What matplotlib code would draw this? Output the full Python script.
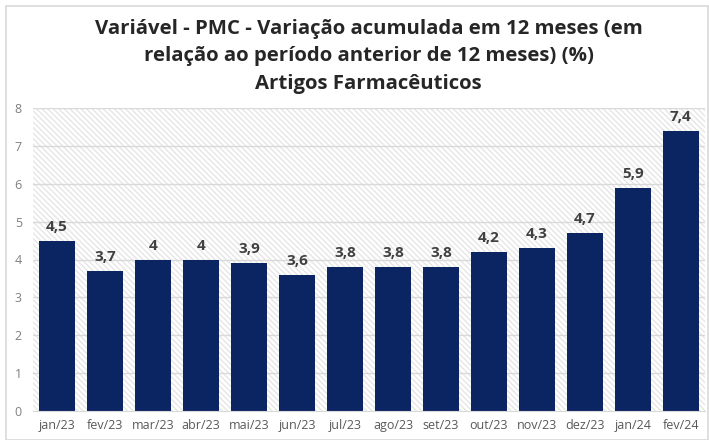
import matplotlib
matplotlib.use('Agg')
import matplotlib.pyplot as plt
from matplotlib.patches import Rectangle

meses = ['jan/23', 'fev/23', 'mar/23', 'abr/23', 'mai/23', 'jun/23', 'jul/23',
         'ago/23', 'set/23', 'out/23', 'nov/23', 'dez/23', 'jan/24', 'fev/24']
valores = [4.5, 3.7, 4.0, 4.0, 3.9, 3.6, 3.8, 3.8, 3.8, 4.2, 4.3, 4.7, 5.9, 7.4]
yticks = [0, 1, 2, 3, 4, 5, 6, 7, 8]

plt.rcParams['font.family'] = ['Open Sans', 'DejaVu Sans']

fig = plt.figure(figsize=(7.09, 4.40), dpi=100)
fig.patch.set_facecolor('white')
# chart frame
fig.add_artist(Rectangle((6 / 709, 0), 702 / 709, 434 / 440, transform=fig.transFigure,
                         fill=False, edgecolor='#d9d9d9', linewidth=1.2))

ax = fig.add_axes([33 / 709, 29 / 440, 672 / 709, 303 / 440])
ax.set_xlim(-0.5, len(meses) - 0.5)
ax.set_ylim(0, 8)

# hatched plot area
ax.add_patch(Rectangle((0, 0), 1, 1, transform=ax.transAxes, facecolor='white',
                       edgecolor='#e6e6e6', hatch='\\\\\\\\\\\\', linewidth=0, zorder=0))
for y in yticks[1:]:
    ax.axhline(y, color='#d9d9d9', linewidth=1.0, zorder=1)

x = range(len(meses))
bars = ax.bar(x, valores, width=0.75, color='#0b2462', zorder=2)
for xi, v in zip(x, valores):
    lab = f'{v:.1f}'.replace('.', ',') if v != int(v) else str(int(v))
    ax.text(xi, v + 0.18, lab, ha='center', va='bottom', fontsize=11,
            fontweight='bold', color='#404040')

ax.set_xticks(list(x))
ax.set_xticklabels(meses, fontsize=9, color='#595959')
ax.set_yticks(yticks)
ax.set_yticklabels([str(t) for t in yticks], fontsize=9, color='#7f7f7f')
ax.tick_params(axis='x', length=0, pad=6)
ax.tick_params(axis='y', length=0, pad=8)
for s in ['top', 'right', 'left']:
    ax.spines[s].set_visible(False)
ax.spines['bottom'].set_color('#d9d9d9')

title_lines = ['Variável - PMC - Variação acumulada em 12 meses (em',
               'relação ao período anterior de 12 meses) (%)',
               'Artigos Farmacêuticos']
for yy, t in zip([0.935, 0.872, 0.810], title_lines):
    fig.text(0.52, yy, t, ha='center', va='center', fontsize=14.7,
             fontweight='bold', color='#262626')

fig.savefig('out.png', dpi=100, facecolor='white')
